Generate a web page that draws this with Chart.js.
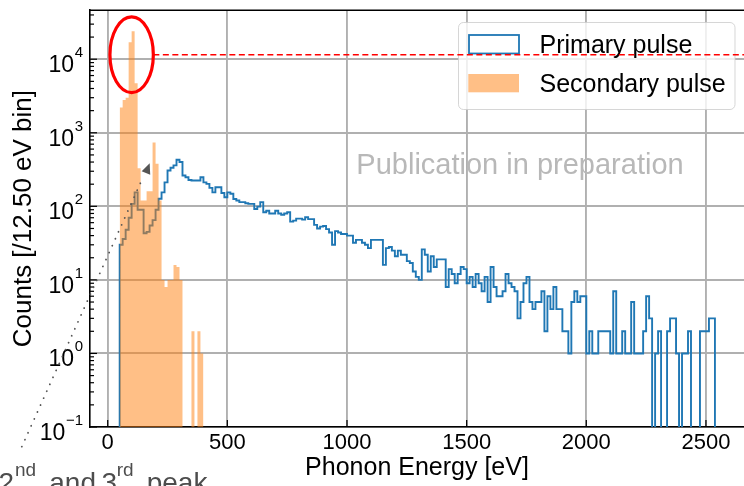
<!DOCTYPE html>
<html>
<head>
<meta charset="utf-8">
<script src="https://cdn.jsdelivr.net/npm/chart.js@4.4.0/dist/chart.umd.min.js"></script>
<style>
  html, body { margin: 0; padding: 0; background: #fff; overflow: hidden; }
  #wrap { width: 744px; height: 486px; }
</style>
</head>
<body>
<div id="wrap"><canvas id="histChart" width="744" height="486"></canvas></div>
<script>
// histogram binning (eV)
const BIN_WIDTH = 12.5;
const FIRST_EDGE = 50;

// counts per 12.5 eV bin, starting at 50 eV
const primaryCounts = [
  30, 36, 48, 70, 108, 155, 90, 90, 43, 45, 55, 65, 90, 127, 155, 212, 307, 335, 360, 430,
  400, 262, 248, 228, 224, 224, 224, 248, 212, 202, 178, 155, 182, 182, 152, 133, 155, 148, 126, 120,
  114, 114, 110, 108, 108, 92, 99, 114, 83, 87, 80, 80, 87, 80, 77, 80, 83, 62, 64, 68,
  68, 66, 71, 67, 67, 56, 50, 53, 54, 49, 44, 30, 46, 44, 42, 42, 40, 40, 32, 35,
  35, 32, 30, 27, 35, 35, 35, 35, 16, 27, 28, 25, 21, 25, 22, 22, 18, 17, 13, 11,
  10, 26, 22, 13, 21, 15, 19, 19, 19, 8, 14, 12, 9, 12, 15, 14, 9, 11, 8, 12,
  9, 7, 11, 5, 15, 8, 6, 6, 7, 12, 9, 8, 7, 3, 5, 9, 11, 5, 4, 5,
  5, 7, 2, 6, 4, 8, 4, 4, 2, 2, 1, 5, 7, 5, 6, 6, 1, 2, 1, 1,
  2, 2, 2, 2, 1, 7, 1, 1, 2, 1, 1, 5, 1, 1, 1, 2, 6, 3, 0, 1,
  2, 0, 0, 2, 3, 3, 1, 0, 1, 1, 2, 0, 0, 0, 2, 2, 2, 3, 3
];
const secondaryCounts = [
  2200, 2800, 3000, 17000, 24000, 4700, 330, 120, 120, 160, 160, 740, 380, 120,
  10, 8, 10, 10, 16, 15, 10, 0, 0, 0, 2, 0, 2, 1
];

const xTicks = [0, 500, 1000, 1500, 2000, 2500];
const yDecades = [-1, 0, 1, 2, 3, 4];

const FONT = '"Liberation Sans", Arial, sans-serif';
const FLOOR = 1e-3; // empty bins drop below the axis

function stepPoints(counts) {
  const pts = [{x: FIRST_EDGE, y: FLOOR}];
  counts.forEach((c, i) => {
    pts.push({x: FIRST_EDGE + i * BIN_WIDTH, y: c > 0 ? c : FLOOR});
  });
  pts.push({x: FIRST_EDGE + counts.length * BIN_WIDTH, y: FLOOR});
  return pts;
}

function strokeLine(ctx, x1, y1, x2, y2) {
  ctx.beginPath();
  ctx.moveTo(x1, y1);
  ctx.lineTo(x2, y2);
  ctx.stroke();
}

const decorPlugin = {
  id: 'decor',
  afterDraw(chart) {
    const {ctx, chartArea: a, scales: {x, y}} = chart;
    ctx.save();

    // top spine + inward ticks
    ctx.strokeStyle = '#000';
    ctx.lineWidth = 1.6;
    strokeLine(ctx, a.left - 0.8, a.top, a.right, a.top);
    ctx.lineWidth = 1.2;
    yDecades.forEach(e => {
      const py = y.getPixelForValue(10 ** e);
      strokeLine(ctx, a.left, py, a.left + 7, py);
      for (let k = 2; k <= 9; k++) {
        const v = k * 10 ** e;
        if (v > y.max) break;
        const pm = y.getPixelForValue(v);
        strokeLine(ctx, a.left, pm, a.left + 4, pm);
      }
    });
    xTicks.forEach(v => {
      const px = x.getPixelForValue(v);
      strokeLine(ctx, px, a.bottom, px, a.bottom - 7);
    });

    // y tick labels as 10^n
    ctx.fillStyle = '#000';
    ctx.textAlign = 'right';
    ctx.textBaseline = 'alphabetic';
    yDecades.forEach(e => {
      const py = y.getPixelForValue(10 ** e);
      const sup = e < 0 ? '\u2212' + Math.abs(e) : String(e);
      ctx.font = '15px ' + FONT;
      const sw = ctx.measureText(sup).width;
      ctx.fillText(sup, 83, py - 2);
      ctx.font = '23px ' + FONT;
      ctx.fillText('10', 83 - sw - 0.5, py + 13);
    });

    // watermark
    ctx.font = '29px ' + FONT;
    ctx.fillStyle = '#b8b8b8';
    ctx.textAlign = 'center';
    ctx.fillText('Publication in preparation', 520, 174);

    // legend
    ctx.beginPath();
    ctx.roundRect(458.5, 22.5, 276.5, 87, 5);
    ctx.fillStyle = 'rgba(255,255,255,0.8)';
    ctx.fill();
    ctx.strokeStyle = 'rgba(204,204,204,0.8)';
    ctx.lineWidth = 1;
    ctx.stroke();
    ctx.strokeStyle = '#1f77b4';
    ctx.lineWidth = 1.8;
    ctx.strokeRect(469, 35, 50, 18.5);
    ctx.fillStyle = 'rgba(255,127,14,0.5)';
    ctx.fillRect(468.3, 74, 50.7, 18.3);
    ctx.fillStyle = '#000';
    ctx.textAlign = 'left';
    ctx.font = '25px ' + FONT;
    ctx.fillText('Primary pulse', 539.5, 53);
    ctx.fillText('Secondary pulse', 539.5, 91.7);

    // red ellipse around the main peak and dashed level line
    const cx = x.getPixelForValue(100);
    const cy = y.getPixelForValue(11500);
    const rx = 21.7, ry = 37.8;
    ctx.strokeStyle = '#ff0000';
    ctx.lineWidth = 1.5;
    ctx.setLineDash([6, 3.5]);
    strokeLine(ctx, cx + rx, cy, chart.width, cy);
    ctx.setLineDash([]);
    ctx.lineWidth = 3.2;
    ctx.beginPath();
    ctx.ellipse(cx, cy, rx, ry, 0, 0, Math.PI * 2);
    ctx.stroke();

    // dotted arrow to the 2nd/3rd peaks
    const sx = x.getPixelForValue(-359), sy = y.getPixelForValue(0.054);
    const tx = x.getPixelForValue(148), ty = y.getPixelForValue(250);
    ctx.strokeStyle = '#555555';
    ctx.lineWidth = 1.8;
    ctx.lineCap = 'round';
    ctx.setLineDash([0.1, 7.5]);
    strokeLine(ctx, sx, sy, tx, ty);
    ctx.setLineDash([]);
    const hx = x.getPixelForValue(165), hy = y.getPixelForValue(310);
    ctx.fillStyle = '#555555';
    ctx.beginPath();
    ctx.moveTo(hx - 5.5, hy + 1);
    ctx.lineTo(hx + 2.5, hy - 7);
    ctx.lineTo(hx + 3, hy + 4.5);
    ctx.closePath();
    ctx.fill();

    // annotation text with superscripts
    ctx.fillStyle = '#4d4d4d';
    ctx.textAlign = 'left';
    const base = 491.7, raised = 475.6;
    ctx.font = '28px ' + FONT;
    ctx.fillText('2', -1.5, base);
    ctx.fillText('and', 49.3, base);
    ctx.fillText('3', 101.5, base);
    ctx.fillText('peak', 146.7, base);
    ctx.font = '19px ' + FONT;
    ctx.fillText('nd', 15, raised);
    ctx.fillText('rd', 116.7, raised);

    ctx.restore();
  }
};

const ctx = document.getElementById('histChart').getContext('2d');
const histChart = new Chart(ctx, {
  type: 'line',
  data: {
    datasets: [
      {
        label: 'Secondary pulse',
        data: stepPoints(secondaryCounts),
        stepped: true,
        borderWidth: 0,
        backgroundColor: 'rgba(255,127,14,0.5)',
        fill: 'start',
        pointRadius: 0,
        order: 0
      },
      {
        label: 'Primary pulse',
        data: stepPoints(primaryCounts),
        stepped: true,
        borderColor: '#1f77b4',
        borderWidth: 1.9,
        borderJoinStyle: 'miter',
        fill: false,
        pointRadius: 0,
        order: 1
      }
    ]
  },
  options: {
    responsive: false,
    animation: false,
    devicePixelRatio: 1,
    layout: { padding: { left: 0, right: 0, top: 10, bottom: 0 } },
    plugins: { legend: { display: false }, tooltip: { enabled: false } },
    scales: {
      x: {
        type: 'linear',
        min: -74,
        max: 2659,
        z: 1,
        afterBuildTicks: s => { s.ticks = xTicks.map(v => ({value: v})); },
        afterFit: s => { s.height = 59; },
        ticks: { callback: v => String(v), font: { family: FONT, size: 22 }, color: '#000', padding: 2.5, maxRotation: 0, autoSkip: false },
        grid: { color: '#b0b0b0', lineWidth: 1.9, drawTicks: false },
        border: { display: true, color: '#000', width: 1.6 },
        title: { display: true, text: 'Phonon Energy [eV]', color: '#000', font: { family: FONT, size: 25 }, padding: { top: 0, bottom: 2.5 } }
      },
      y: {
        type: 'logarithmic',
        min: 0.1,
        max: 46400,
        z: 1,
        afterBuildTicks: s => { s.ticks = yDecades.map(e => ({value: 10 ** e})); },
        afterFit: s => { s.width = 90; },
        ticks: { callback: () => '' },
        grid: { color: '#b0b0b0', lineWidth: 1.9, drawTicks: false },
        border: { display: true, color: '#000', width: 1.6 },
        title: { display: true, text: 'Counts [/12.50 eV bin]', color: '#000', font: { family: FONT, size: 26 }, padding: { top: 8.5 } }
      }
    }
  },
  plugins: [decorPlugin]
});
</script>
</body>
</html>
